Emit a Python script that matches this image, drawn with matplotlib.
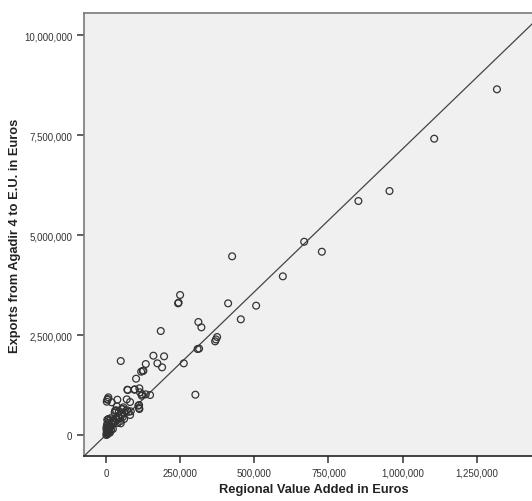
import matplotlib.pyplot as plt
from matplotlib.ticker import FuncFormatter

# Regional value added (x) and exports to E.U. (y), both in euros
value_added = [
    1318800, 1107000, 956000, 851000, 668000, 727600, 595900, 505700,
    424600, 411100, 454000, 374000, 367200, 370000, 310800, 320900,
    308000, 313000, 300600, 261400, 249000, 242200, 244000, 183700,
    194900, 158800, 172300, 188200, 133100, 123000, 117500, 125000,
    48600, 100300, 72300, 95900, 111500, 120600, 119600, 133100,
    147600, 110500, 110500, 68900, 80100, 6800, 4700, 1400, 18200,
    35100, 29400, 55400, 82400, 6800, 40500, 59800, 48600, 23600,
    80100, 70900, 94600, 113800, 57400, 108100, 111500, 3400, 37200,
    0, 2000, 3000, 1000, 5000, 4000, 8000, 10000, 6000, 12000, 15000,
    3000, 7000, 20000, 25000, 18000, 30000, 35000, 40000, 45000, 50000,
    28000, 33000, 55000, 60000, 65000, 22000, 12000, 1000, 0, 2000,
    9000, 14000, 38000, 48000, 70000, 75000, 42000, 52000, 4000, 6000,
    2000, 9000, 11000, 16000,
]
exports_eu = [
    8642500, 7407500, 6100000, 5850000, 4832000, 4582000, 3967000, 3233000,
    4467000, 3292000, 2892000, 2450000, 2342000, 2390000, 2825000, 2692000,
    2150000, 2160000, 1008000, 1792000, 3500000, 3292000, 3310000, 2600000,
    1967000, 1983000, 1792000, 1692000, 1775000, 1600000, 1583000, 1608000,
    1850000, 1408000, 1125000, 1142000, 1167000, 1017000, 983000, 1017000,
    1000000, 750000, 675000, 892000, 825000, 942000, 900000, 833000, 817000,
    717000, 608000, 650000, 592000, 392000, 442000, 400000, 292000, 342000,
    500000, 1133000, 1133000, 1067000, 692000, 733000, 650000, 883000, 883000,
    0, 30000, 80000, 120000, 150000, 200000, 100000, 250000, 300000, 180000,
    220000, 380000, 400000, 350000, 300000, 280000, 420000, 380000, 480000,
    420000, 520000, 560000, 620000, 450000, 550000, 600000, 150000, 60000,
    50000, 180000, 260000, 350000, 420000, 300000, 350000, 620000, 580000,
    600000, 650000, 20000, 60000, 110000, 160000, 70000, 130000,
]

x_ticks = [0, 250000, 500000, 750000, 1000000, 1250000]
y_ticks = [0, 2500000, 5000000, 7500000, 10000000]

# fit line
fit_slope = 7.14
fit_intercept = 12000

plt.rcParams['font.family'] = ['Liberation Sans', 'DejaVu Sans']

fig = plt.figure(figsize=(5.32, 5.02), dpi=100)
ax = fig.add_axes([0.158, 0.0896, 0.865, 0.8825])
ax.set_facecolor('#f0f0f0')

ax.scatter(value_added, exports_eu, s=24, facecolors='none',
           edgecolors='#333333', linewidths=0.9, zorder=3)
ax.axline((0, fit_intercept), slope=fit_slope, color='#444444',
          linewidth=0.9, zorder=2)

ax.set_xlim(-75300, 1478500)
ax.set_ylim(-525000, 10550000)
ax.set_xticks(x_ticks)
ax.set_yticks(y_ticks)
fmt = FuncFormatter(lambda v, p: f'{int(v):,}')
ax.xaxis.set_major_formatter(fmt)
ax.yaxis.set_major_formatter(fmt)
ax.tick_params(direction='out', length=5, width=1.2, color='#444444',
               labelsize=7, labelcolor='#333333')

for side in ['left', 'top', 'right']:
    ax.spines[side].set_color('#7a7a7a')
    ax.spines[side].set_linewidth(1.2)
ax.spines['bottom'].set_color('#222222')
ax.spines['bottom'].set_linewidth(1.2)

ax.set_xlabel('Regional Value Added in Euros', fontsize=9.3, fontweight='bold',
              color='#222222')
ax.set_ylabel('Exports from Agadir 4 to E.U. in Euros', fontsize=9.3,
              fontweight='bold', color='#222222')
ax.xaxis.set_label_coords(0.5, -0.06)
ax.yaxis.set_label_coords(-0.137, 0.5)

fig.savefig('out.png', dpi=100)
